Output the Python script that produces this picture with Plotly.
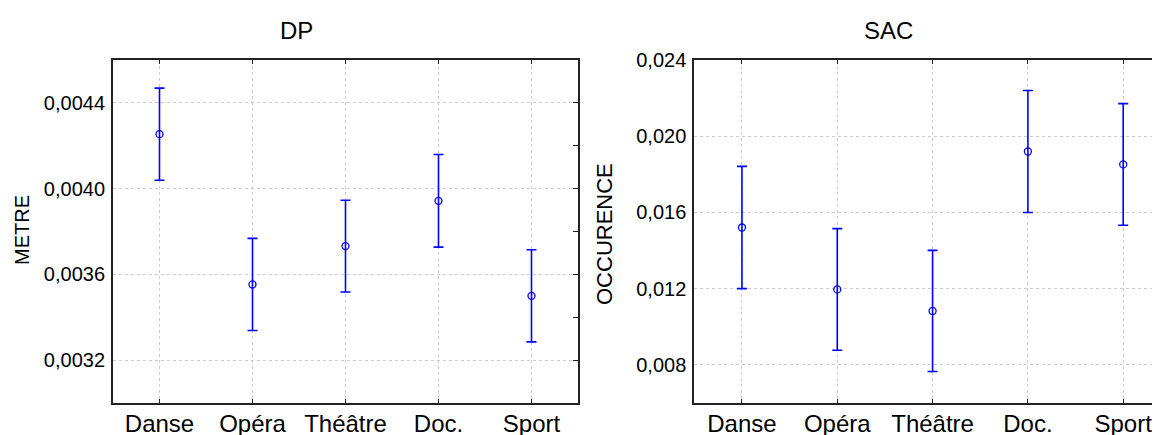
import plotly.graph_objects as go

categories = ["Danse", "Opéra", "Théâtre", "Doc.", "Sport"]
dp_mean = [0.004254, 0.003553, 0.003732, 0.003943, 0.003500]
dp_err = [0.000215, 0.000215, 0.000214, 0.000216, 0.000215]
sac_mean = [0.01521, 0.01196, 0.01083, 0.01920, 0.01852]
sac_err = [0.00321, 0.00319, 0.00318, 0.00320, 0.00319]
panel_titles = ["DP", "SAC"]
y_titles = ["METRE", "OCCURENCE"]

W, H = 1160, 435
OFF = 8  # page body margin in the viewer
FONT = "Liberation Sans, Arial, sans-serif"
BLUE = "#0000ff"
GRID = "#cccccc"
AX = "#222222"


def px(sx):
    return (sx - OFF) / W


def py(sy):
    return 1 - (sy - OFF) / H


fig = go.Figure()


def add_series(means, errs, xa, ya):
    fig.add_trace(go.Scatter(
        x=categories, y=means, xaxis=xa, yaxis=ya, mode="markers",
        marker=dict(symbol="circle-open", size=7, color=BLUE, line=dict(width=1.3, color=BLUE)),
        error_y=dict(type="data", array=errs, visible=True, color=BLUE, thickness=1.6, width=5),
        showlegend=False, hoverinfo="x+y"))


add_series(dp_mean, dp_err, "x", "y")
add_series(sac_mean, sac_err, "x2", "y2")
# invisible trace for the right-hand tick axis of the left panel
fig.add_trace(go.Scatter(x=[categories[0]], y=[dp_mean[0]], xaxis="x", yaxis="y3",
                         mode="markers", marker=dict(opacity=0), showlegend=False, hoverinfo="skip"))

ydom = [py(403), py(60)]
xdom1 = [px(113), px(578)]
xdom2 = [px(694.3), 1.0]

xcommon = dict(type="category", showline=True, linecolor=AX, linewidth=2, mirror="ticks",
               ticks="inside", ticklen=4, tickwidth=1, tickcolor=AX, automargin=False,
               showgrid=True, gridcolor=GRID, griddash="dot", gridwidth=1,
               tickfont=dict(family=FONT, size=24, color="black"), zeroline=False,
               ticklabelstandoff=-2)
ycommon = dict(showline=True, linecolor=AX, linewidth=2, ticks="", ticklen=0, automargin=False,
               showgrid=True, gridcolor=GRID, griddash="dot", gridwidth=1,
               tickfont=dict(family=FONT, size=20, color="black"), zeroline=False,
               ticklabelstandoff=2)

fig.update_layout(
    template="none",
    width=W, height=H, margin=dict(l=0, r=0, t=0, b=0, autoexpand=False),
    paper_bgcolor="white", plot_bgcolor="white", separators=", ",
    xaxis=dict(domain=xdom1, anchor="y", range=[-0.5, 4.5], **xcommon),
    yaxis=dict(domain=ydom, anchor="x", range=[0.0030, 0.0046], tickvals=[0.0032, 0.0036, 0.0040, 0.0044],
               tickformat=".4f", mirror=True, **ycommon),
    yaxis3=dict(overlaying="y", side="right", anchor="x", range=[0.0030, 0.0046], dtick=0.0002,
                tick0=0.0030, ticks="inside", ticklen=5, tickcolor=AX, showticklabels=False,
                showgrid=False, zeroline=False, showline=False, automargin=False),
    xaxis2=dict(domain=xdom2, anchor="y2", range=[-0.5, 4.47], **xcommon),
    yaxis2=dict(domain=ydom, anchor="x2", range=[0.006, 0.024], tickvals=[0.008, 0.012, 0.016, 0.020, 0.024],
                tickformat=".3f", mirror=False, **ycommon),
)

annots = [
    dict(text=panel_titles[0], x=px(296), y=py(30), font=dict(size=24)),
    dict(text=panel_titles[1], x=px(888), y=py(30), font=dict(size=24)),
    dict(text=y_titles[0], x=px(22), y=py(230), textangle=-90, font=dict(size=20)),
    dict(text=y_titles[1], x=px(605), y=py(234), textangle=-90, font=dict(size=22)),
]
for a in annots:
    a["font"].update(family=FONT, color="black")
    fig.add_annotation(xref="paper", yref="paper", showarrow=False,
                       xanchor="center", yanchor="middle", **a)

fig.write_html("out.html")
